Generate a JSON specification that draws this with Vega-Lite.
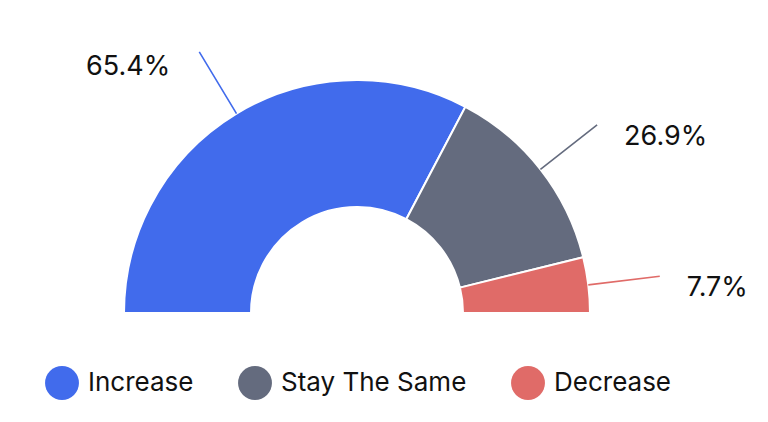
{
  "$schema": "https://vega.github.io/schema/vega-lite/v6.json",
  "width": 714,
  "height": 626,
  "autosize": {"type": "none"},
  "padding": {"left": 0, "top": 0, "right": 54, "bottom": -204},
  "background": "white",
  "config": {"view": {"stroke": null}, "font": "Inter"},
  "data": {
    "values": [
      {"category": "Increase", "value": 65.4, "label": "65.4%"},
      {"category": "Stay The Same", "value": 26.9, "label": "26.9%"},
      {"category": "Decrease", "value": 7.7, "label": "7.7%"}
    ]
  },
  "encoding": {
    "theta": {"field": "value", "type": "quantitative", "stack": true, "scale": {"range": [-1.5708, 1.5708]}},
    "order": {"field": "value", "sort": "descending"}
  },
  "layer": [
    {
      "mark": {"type": "arc", "radius": 233, "radius2": 106, "stroke": "white", "strokeWidth": 2},
      "encoding": {
        "color": {
          "field": "category", "type": "nominal",
          "scale": {"domain": ["Increase", "Stay The Same", "Decrease"], "range": ["#416BEC", "#646B7E", "#E06B68"]},
          "legend": {
            "title": null, "orient": "none", "direction": "horizontal",
            "legendX": 45, "legendY": 366, "padding": 0,
            "symbolType": "circle", "symbolSize": 1150, "symbolStrokeWidth": 0,
            "labelFontSize": 26, "labelFont": "Inter", "labelColor": "#111111",
            "labelOffset": 9, "columnPadding": 44, "labelLimit": 400
          }
        }
      }
    },
    {
      "mark": {"type": "arc", "radius": 233, "radius2": 305, "padAngle": 3, "filled": false, "strokeWidth": 1.6},
      "encoding": {
        "color": {"field": "category", "type": "nominal", "legend": null}
      }
    },
    {
      "mark": {"type": "text", "radius": 305, "align": "right", "baseline": "middle", "dx": -29, "dy": 15, "fontSize": 27, "font": "Inter", "color": "#111111"},
      "encoding": {
        "text": {"field": "label"},
        "opacity": {"condition": {"test": "datum.category === 'Increase'", "value": 1}, "value": 0}
      }
    },
    {
      "mark": {"type": "text", "radius": 305, "align": "left", "baseline": "middle", "dx": 27, "dy": 12, "fontSize": 27, "font": "Inter", "color": "#111111"},
      "encoding": {
        "text": {"field": "label"},
        "opacity": {"condition": {"test": "datum.category === 'Increase'", "value": 0}, "value": 1}
      }
    }
  ]
}
